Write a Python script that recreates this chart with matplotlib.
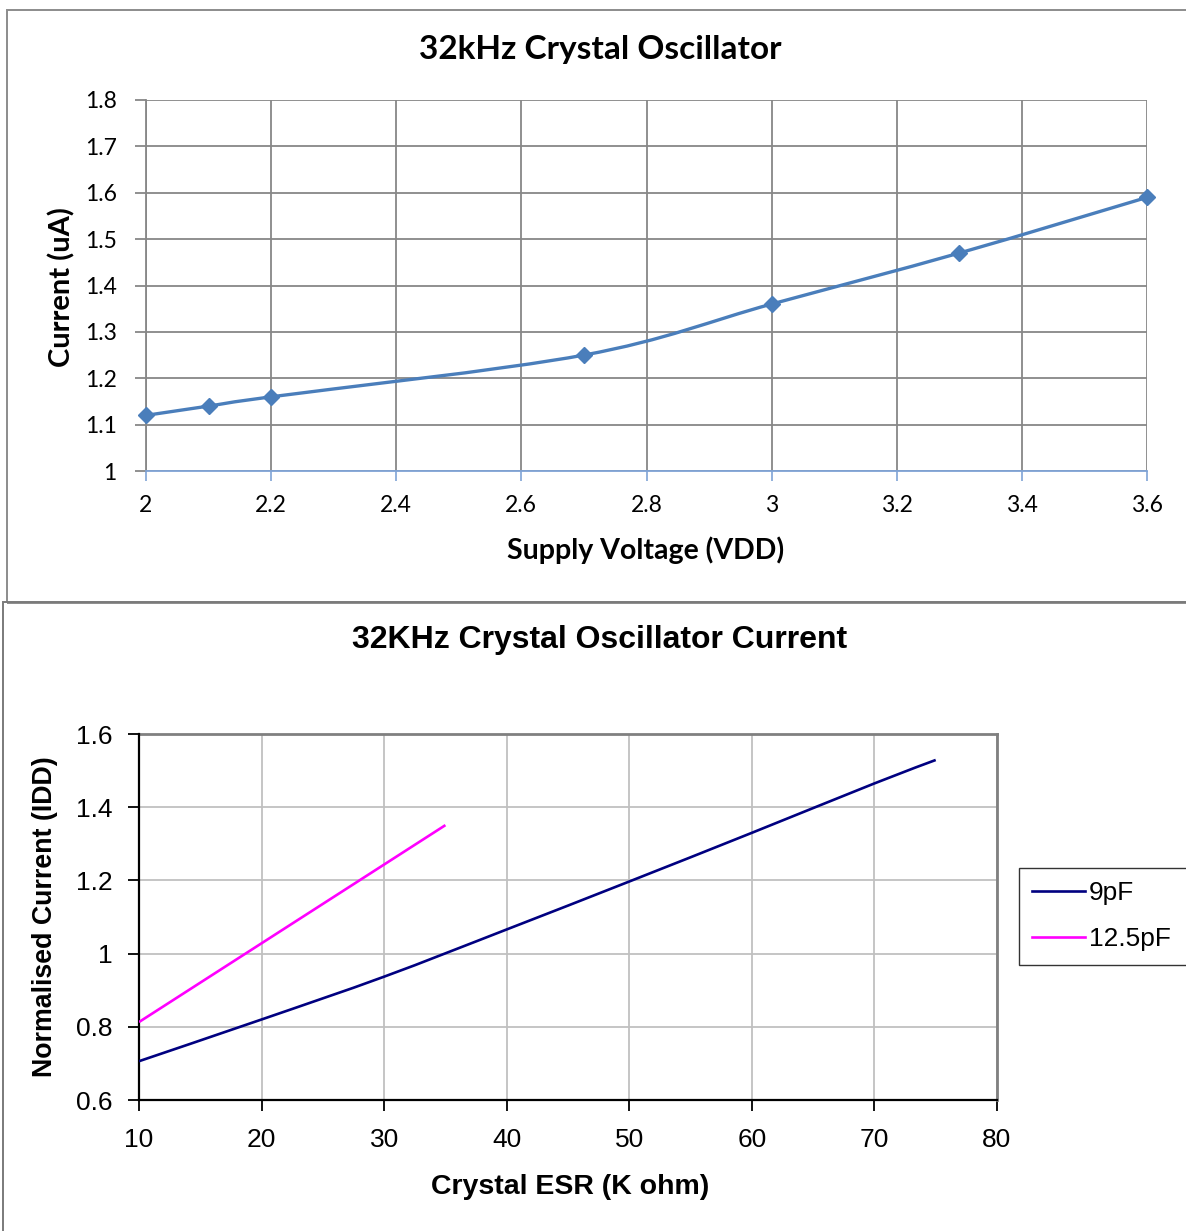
import numpy as np
import matplotlib
matplotlib.use("Agg")
import matplotlib.pyplot as plt
from matplotlib.path import Path
from matplotlib.patches import PathPatch, Rectangle
from matplotlib.lines import Line2D

# ---------------- data ----------------
vdd = [2.0, 2.1, 2.2, 2.7, 3.0, 3.3, 3.6]
current_ua = [1.12, 1.14, 1.16, 1.25, 1.36, 1.47, 1.59]
vdd_ticks = [2, 2.2, 2.4, 2.6, 2.8, 3, 3.2, 3.4, 3.6]
vdd_tick_labels = ["2", "2.2", "2.4", "2.6", "2.8", "3", "3.2", "3.4", "3.6"]
cur_ticks = [1, 1.1, 1.2, 1.3, 1.4, 1.5, 1.6, 1.7, 1.8]
cur_tick_labels = ["1", "1.1", "1.2", "1.3", "1.4", "1.5", "1.6", "1.7", "1.8"]

esr_9pf = [10, 20, 30, 40, 50, 60, 70, 75]
idd_9pf = [0.706, 0.82, 0.937, 1.066, 1.197, 1.33, 1.465, 1.529]
esr_12pf = [10, 35]
idd_12pf = [0.813, 1.351]
esr_ticks = [10, 20, 30, 40, 50, 60, 70, 80]
idd_ticks = [0.6, 0.8, 1.0, 1.2, 1.4, 1.6]
idd_tick_labels = ["0.6", "0.8", "1", "1.2", "1.4", "1.6"]

W, H = 1186, 1231
fig = plt.figure(figsize=(W / 100, H / 100), dpi=100)


def fx(px):
    return px / W


def fy(py):
    return 1 - py / H


def smooth_path(xs, ys):
    """Excel-style smoothed line: Catmull-Rom converted to cubic Bezier."""
    xs = np.asarray(xs, float)
    ys = np.asarray(ys, float)
    pts = np.column_stack([xs, ys])
    n = len(pts)
    verts = [pts[0]]
    codes = [Path.MOVETO]
    for i in range(n - 1):
        p0 = pts[i - 1] if i > 0 else pts[i]
        p1 = pts[i]
        p2 = pts[i + 1]
        p3 = pts[i + 2] if i + 2 < n else pts[i + 1]
        c1 = p1 + (p2 - p0) / 6.0
        c2 = p2 - (p3 - p1) / 6.0
        verts += [c1, c2, p2]
        codes += [Path.CURVE4] * 3
    return Path(verts, codes)


# ---------------- frames ----------------
lw_frame = 1.4
fig.add_artist(Rectangle((fx(7), fy(603)), fx(1300 - 7), fy(10) - fy(603),
                         transform=fig.transFigure, fill=False,
                         edgecolor="#8c8c8c", linewidth=lw_frame))
fig.add_artist(Rectangle((fx(3), fy(1300)), fx(1300), fy(602) - fy(1300),
                         transform=fig.transFigure, fill=False,
                         edgecolor="#7a7a7a", linewidth=lw_frame))

# ---------------- top chart ----------------
top_font = "Lato"
ax1 = fig.add_axes([fx(146), fy(471), fx(1147) - fx(146), fy(100) - fy(471)])
ax1.set_xlim(2, 3.6)
ax1.set_ylim(1, 1.8)
ax1.set_xticks(vdd_ticks)
ax1.set_xticklabels(vdd_tick_labels)
ax1.set_yticks(cur_ticks)
ax1.set_yticklabels(cur_tick_labels)
gridc = "#878787"
ax1.grid(True, color=gridc, linewidth=1.3)
ax1.set_axisbelow(True)
for s in ["top", "right"]:
    ax1.spines[s].set_visible(False)
ax1.spines["left"].set_color(gridc)
ax1.spines["left"].set_linewidth(1.3)
ax1.spines["bottom"].set_color("#7fa3d6")
ax1.spines["bottom"].set_linewidth(1.3)
ax1.spines["bottom"].set_zorder(3)
ax1.tick_params(axis="x", direction="out", length=7, width=1.2, color="#7fa3d6",
                pad=10, labelsize=16.5)
ax1.tick_params(axis="y", direction="out", length=8, width=1.3, color=gridc,
                pad=13, labelsize=16.5)
for lab in ax1.get_xticklabels() + ax1.get_yticklabels():
    lab.set_fontfamily(top_font)

ax1.add_patch(PathPatch(smooth_path(vdd, current_ua), fill=False,
                        edgecolor="#4a7ebb", linewidth=2.4, zorder=4,
                        clip_on=False))
ax1.plot(vdd, current_ua, linestyle="none", marker="D", markersize=8,
         color="#4a7ebb", zorder=5, clip_on=False)

ax1.set_xlabel("Supply Voltage (VDD)", fontfamily=top_font, fontweight="bold",
               fontsize=20.5)
ax1.xaxis.label.set_va("center")
ax1.xaxis.set_label_coords((646 - 146) / 1001, (471 - 550) / 371)
ax1.set_ylabel("Current (uA)", fontfamily=top_font, fontweight="bold",
               fontsize=21)
ax1.yaxis.label.set_va("center")
ax1.yaxis.set_label_coords((62 - 146) / 1001, (471 - 287) / 371)
fig.text(fx(600), fy(49), "32kHz Crystal Oscillator", fontfamily=top_font,
         fontweight="bold", fontsize=24, ha="center", va="center")

# ---------------- bottom chart ----------------
bot_font = "Liberation Sans"
ax2 = fig.add_axes([fx(139), fy(1100), fx(997) - fx(139), fy(734) - fy(1100)])
ax2.set_xlim(10, 80)
ax2.set_ylim(0.6, 1.6)
ax2.set_xticks(esr_ticks)
ax2.set_yticks(idd_ticks)
ax2.set_yticklabels(idd_tick_labels)
ax2.grid(True, color="#c0c0c0", linewidth=1.3)
ax2.set_axisbelow(True)
for s in ["top", "right"]:
    ax2.spines[s].set_color("#808080")
    ax2.spines[s].set_linewidth(2.0)
for s in ["left", "bottom"]:
    ax2.spines[s].set_color("black")
    ax2.spines[s].set_linewidth(1.6)
    ax2.spines[s].set_zorder(3)
ax2.tick_params(direction="out", length=8, width=1.3, color="black",
                labelsize=19)
ax2.tick_params(axis="x", pad=12)
ax2.tick_params(axis="y", pad=11)
for lab in ax2.get_xticklabels() + ax2.get_yticklabels():
    lab.set_fontfamily(bot_font)

ax2.add_patch(PathPatch(smooth_path(esr_9pf, idd_9pf), fill=False,
                        edgecolor="#000080", linewidth=1.9, zorder=4))
ax2.add_patch(PathPatch(smooth_path(esr_12pf, idd_12pf), fill=False,
                        edgecolor="#ff00ff", linewidth=1.9, zorder=4))

ax2.set_xlabel("Crystal ESR (K ohm)", fontfamily=bot_font, fontweight="bold",
               fontsize=20.5)
ax2.xaxis.label.set_va("center")
ax2.xaxis.set_label_coords((570 - 139) / 858, (1100 - 1187) / 366)
ax2.set_ylabel("Normalised Current (IDD)", fontfamily=bot_font,
               fontweight="bold", fontsize=19.3)
ax2.yaxis.label.set_va("center")
ax2.yaxis.set_label_coords((45 - 139) / 858, 0.5)
fig.text(fx(600), fy(640), "32KHz Crystal Oscillator Current",
         fontfamily=bot_font, fontweight="bold", fontsize=23,
         ha="center", va="center")

handles = [Line2D([], [], color="#000080", linewidth=1.9),
           Line2D([], [], color="#ff00ff", linewidth=1.9)]
leg = fig.legend(handles, ["9pF", "12.5pF"], loc="upper left",
                 bbox_to_anchor=(fx(1019), fy(962), fx(220), fy(868) - fy(962)),
                 mode="expand", frameon=True, fancybox=False,
                 prop={"family": bot_font, "size": 18.9},
                 handlelength=2.0, handletextpad=0.15, labelspacing=0.85,
                 borderpad=0.5, borderaxespad=0)
leg.get_frame().set_edgecolor("black")
leg.get_frame().set_linewidth(1.0)
# legend box starts slightly further left than the handles
leg.get_frame().set_x(0)

fig.savefig("out.png", dpi=100)
